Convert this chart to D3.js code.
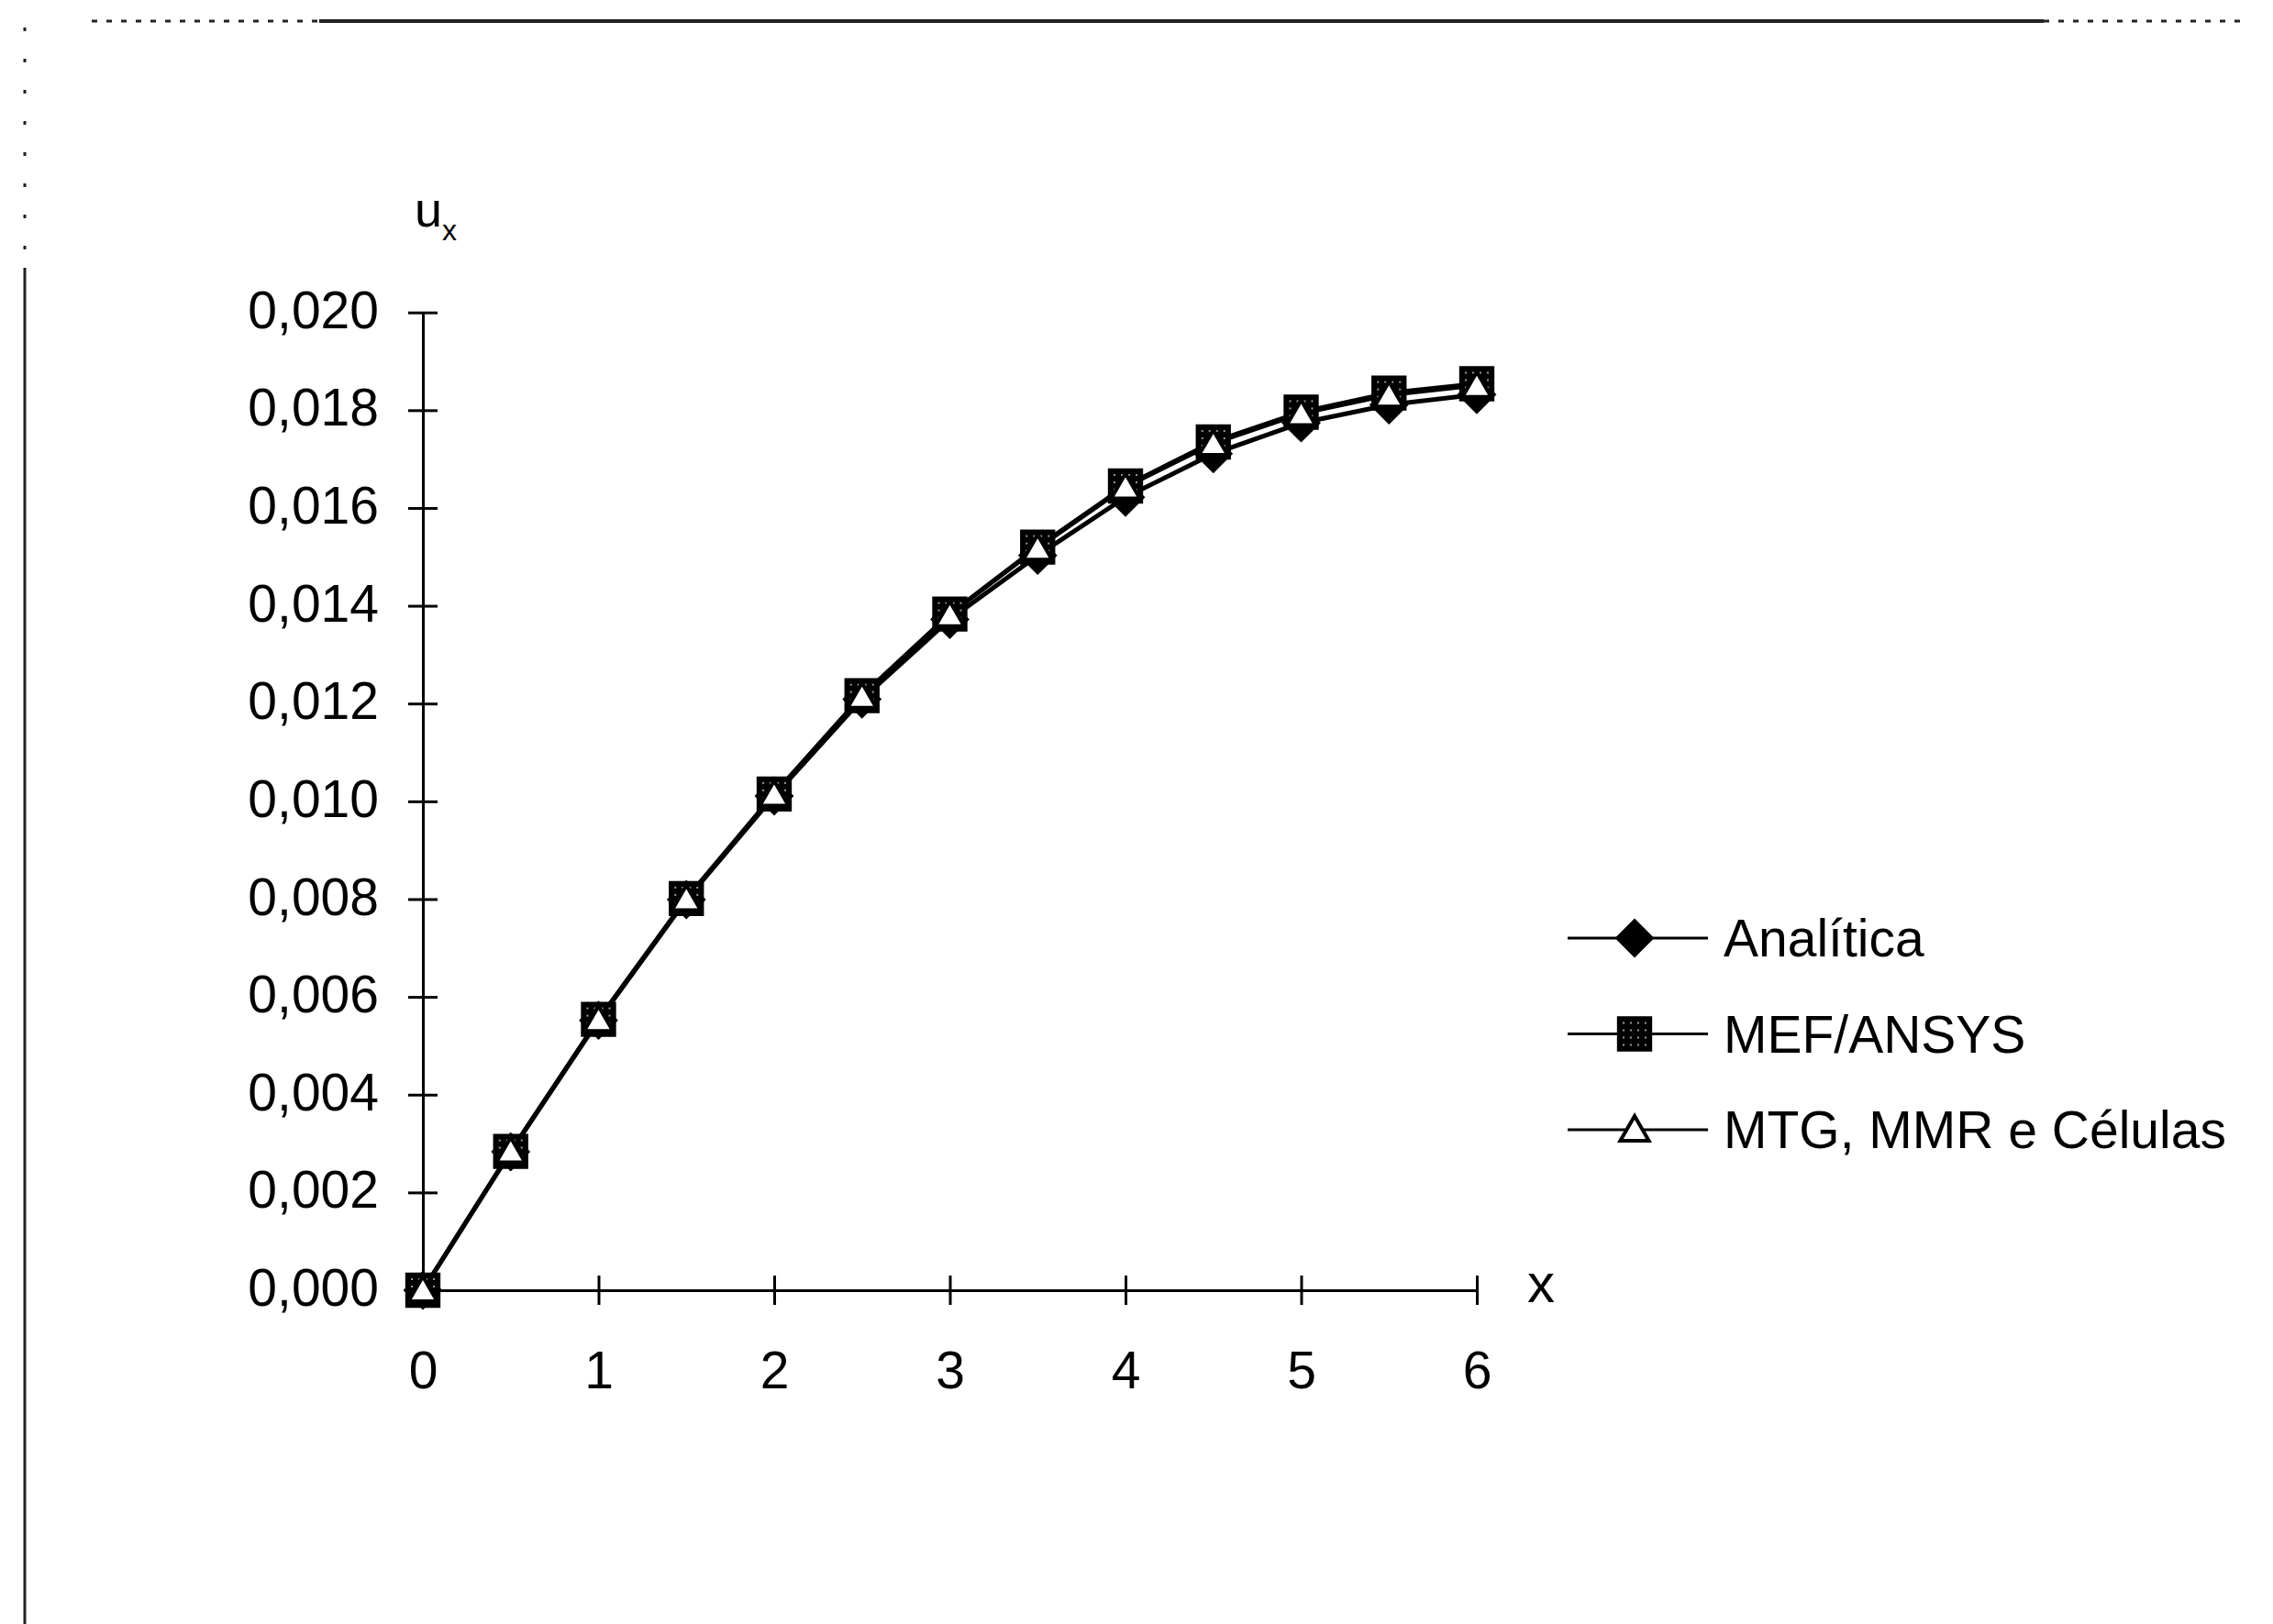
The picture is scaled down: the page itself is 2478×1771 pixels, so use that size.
<!DOCTYPE html>
<html>
<head>
<meta charset="utf-8">
<script src="https://cdn.jsdelivr.net/npm/d3@7"></script>
<style>
  html, body { margin: 0; padding: 0; background: #fff; }
  svg { display: block; font-family: "Liberation Sans", Arial, sans-serif; }
  .axis path, .axis line { stroke: #000; stroke-width: 3; }
  .axis text { font-size: 57px; fill: #000; }
</style>
</head>
<body>
<svg id="chart"></svg>
<script>
'use strict';

// dados
const xs = [0, 0.5, 1, 1.5, 2, 2.5, 3, 3.5, 4, 4.5, 5, 5.5, 6];
const analitica = [0, 0.00283, 0.00552, 0.00799, 0.01011, 0.01209, 0.01372, 0.01503, 0.01622, 0.01711, 0.01774, 0.01811, 0.01832];
const mefAnsys  = [0, 0.00284, 0.00554, 0.00801, 0.01015, 0.01216, 0.01383, 0.01520, 0.01645, 0.01735, 0.01796, 0.01835, 0.01854];
const mtg       = [0, 0.00284, 0.00553, 0.00800, 0.01014, 0.01214, 0.01381, 0.01517, 0.01642, 0.01731, 0.01792, 0.01830, 0.01850];
const seriesNames = ["Analítica", "MEF/ANSYS", "MTG, MMR e Células"];
const xTicks = [0, 1, 2, 3, 4, 5, 6];
const yTicks = [0, 0.002, 0.004, 0.006, 0.008, 0.010, 0.012, 0.014, 0.016, 0.018, 0.020];

const W = 2478, H = 1771;
const svg = d3.select("#chart").attr("width", W).attr("height", H);

// formato com vírgula decimal
const ptBR = d3.formatLocale({ decimal: ",", thousands: ".", grouping: [3], currency: ["R$", ""] });
const fmtY = ptBR.format(".3f");

const x = d3.scaleLinear().domain([0, 6]).range([461, 1610]);
const y = d3.scaleLinear().domain([0, 0.020]).range([1407, 340.7]);

// moldura da página digitalizada
const frame = svg.append("g").attr("stroke", "#222").attr("fill", "none");
frame.append("line").attr("x1", 348).attr("x2", 2228).attr("y1", 23).attr("y2", 23).attr("stroke-width", 4);
frame.append("line").attr("x1", 100).attr("x2", 348).attr("y1", 23).attr("y2", 23)
  .attr("stroke-width", 3).attr("stroke-dasharray", "6 10");
frame.append("line").attr("x1", 2228).attr("x2", 2450).attr("y1", 23).attr("y2", 23)
  .attr("stroke-width", 3).attr("stroke-dasharray", "6 10");
frame.append("line").attr("x1", 27).attr("x2", 27).attr("y1", 292).attr("y2", H).attr("stroke-width", 3);
frame.append("line").attr("x1", 27).attr("x2", 27).attr("y1", 30).attr("y2", 292)
  .attr("stroke-width", 3).attr("stroke-dasharray", "4 30");

// eixo y
const yAxis = svg.append("g")
  .attr("class", "axis")
  .attr("transform", `translate(${x(0)},0)`)
  .call(d3.axisLeft(y).tickValues(yTicks).tickFormat(fmtY).tickSize(16).tickSizeOuter(0).tickPadding(32));
yAxis.selectAll(".tick line").attr("x1", -16).attr("x2", 16);
yAxis.selectAll(".tick text").attr("dy", "0.29em");

// eixo x
const xAxis = svg.append("g")
  .attr("class", "axis")
  .attr("transform", `translate(0,${y(0)})`)
  .call(d3.axisBottom(x).tickValues(xTicks).tickFormat(d3.format("d")).tickSize(16).tickSizeOuter(0).tickPadding(51));
xAxis.selectAll(".tick line").attr("y1", -16).attr("y2", 16);
xAxis.selectAll(".tick text").attr("dy", "0.71em");

// rótulos dos eixos
const uLabel = svg.append("text").attr("x", 452).attr("y", 247).style("font-size", "54px");
uLabel.append("tspan").text("u");
uLabel.append("tspan").attr("dy", 15).style("font-size", "32px").text("x");

svg.append("text").attr("x", 1665).attr("y", 1420).style("font-size", "60px").text("x");

// padrão hachurado para o marcador quadrado
const defs = svg.append("defs");
const pat = defs.append("pattern").attr("id", "hatch")
  .attr("patternUnits", "userSpaceOnUse").attr("width", 8).attr("height", 8);
pat.append("rect").attr("width", 8).attr("height", 8).attr("fill", "#000");
pat.append("rect").attr("x", 3).attr("y", 3).attr("width", 2).attr("height", 2).attr("fill", "#999");

const series = [
  { name: seriesNames[0], values: analitica, symbol: d3.symbolSquare, rot: 45, size: 800, fill: "#000", stroke: "#000", sw: 2, lw: 5 },
  { name: seriesNames[1], values: mefAnsys, symbol: d3.symbolSquare, rot: 0, size: 1250, fill: "url(#hatch)", stroke: "#000", sw: 3, lw: 5 },
  { name: seriesNames[2], values: mtg, symbol: d3.symbolTriangle, rot: 0, size: 420, fill: "#fff", stroke: "#000", sw: 4, lw: 3.5 }
];

const line = d3.line().x((d, i) => x(xs[i])).y(d => y(d));

// linhas
svg.append("g").selectAll("path")
  .data(series)
  .enter()
  .append("path")
  .attr("d", s => line(s.values))
  .attr("fill", "none")
  .attr("stroke", "#000")
  .attr("stroke-width", s => s.lw)
  .attr("stroke-linejoin", "round");

// marcadores
series.forEach(s => {
  const sym = d3.symbol().type(s.symbol).size(s.size);
  const dy = s.symbol === d3.symbolTriangle ? 3 : 0;
  svg.append("g").selectAll("path")
    .data(s.values)
    .enter()
    .append("path")
    .attr("transform", (d, i) => `translate(${x(xs[i])},${y(d) + dy}) rotate(${s.rot})`)
    .attr("d", sym)
    .attr("fill", s.fill)
    .attr("stroke", s.stroke)
    .attr("stroke-width", s.sw);
});

// legenda
const legend = svg.append("g").selectAll("g")
  .data(series)
  .enter()
  .append("g")
  .attr("transform", (d, i) => `translate(1709,${1023 + i * 104.5})`);

legend.append("line")
  .attr("x1", 0).attr("x2", 153)
  .attr("stroke", "#000").attr("stroke-width", 3);

legend.append("path")
  .attr("transform", s => `translate(73,${s.symbol === d3.symbolTriangle ? 3 : 0}) rotate(${s.rot})`)
  .attr("d", s => d3.symbol().type(s.symbol).size(s.size)())
  .attr("fill", s => s.fill)
  .attr("stroke", s => s.stroke)
  .attr("stroke-width", s => s.sw);

legend.append("text")
  .attr("x", 170)
  .attr("y", 20)
  .style("font-size", "57px")
  .text(s => s.name);
</script>
</body>
</html>
